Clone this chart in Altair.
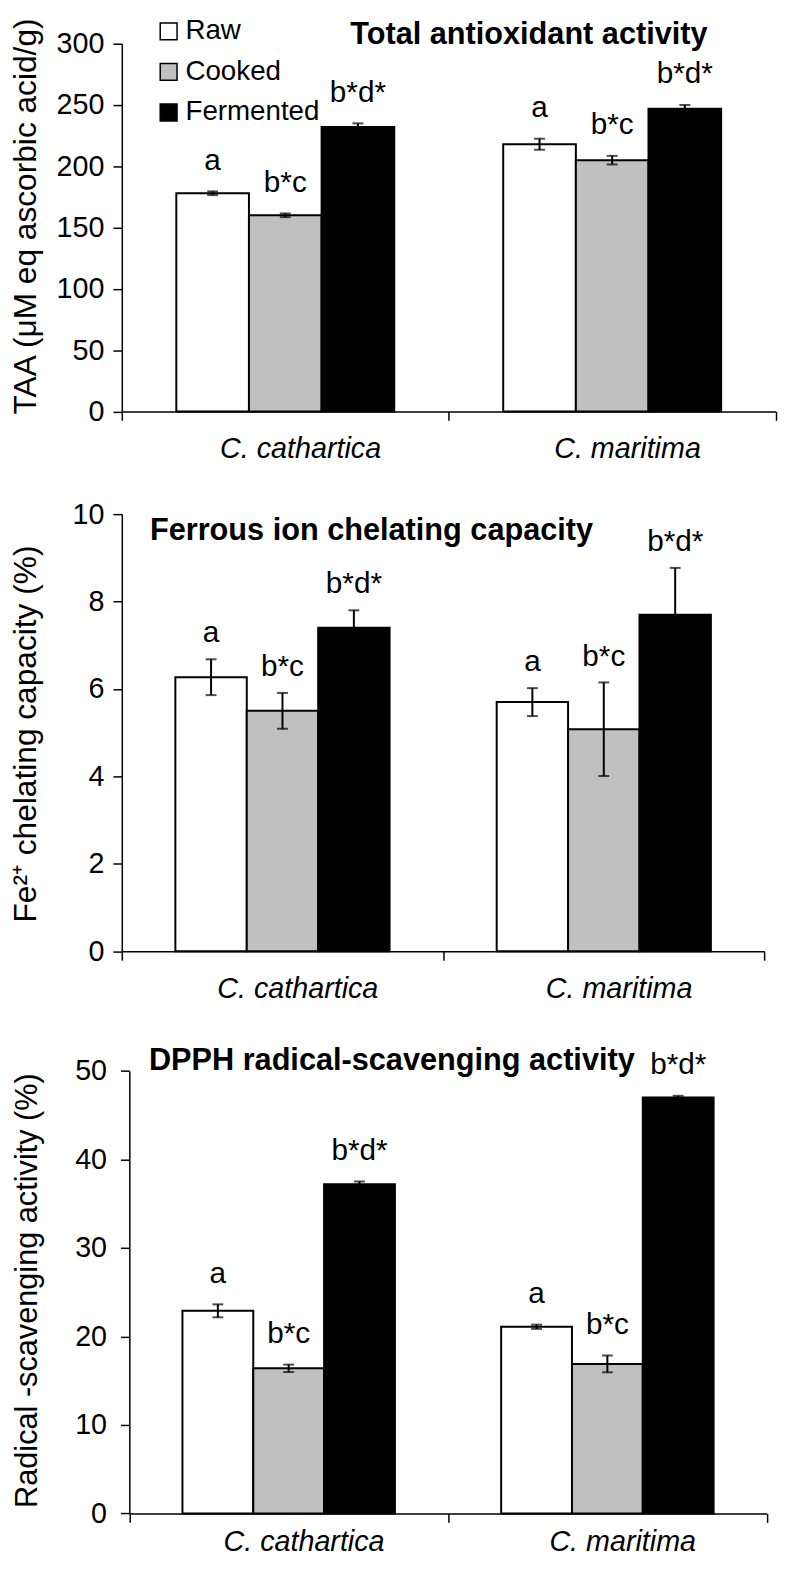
import altair as alt
import pandas as pd

species = ["C. cathartica", "C. maritima"]
treatments = ["Raw", "Cooked", "Fermented"]
letters = ["a", "b*c", "b*d*"]
fills = ["#ffffff", "#c0c0c0", "#000000"]

taa_mean = [178, 160, 232, 218, 205, 247]
taa_err = [1.5, 1.5, 3.0, 4.5, 3.5, 3.0]

fe_mean = [6.27, 5.50, 7.40, 5.70, 5.08, 7.70]
fe_err = [0.41, 0.41, 0.40, 0.32, 1.07, 1.07]

dpph_mean = [22.9, 16.4, 37.2, 21.1, 16.9, 47.0]
dpph_err = [0.73, 0.42, 0.32, 0.24, 0.95, 0.20]

FONT = "Liberation Sans, Arial, Helvetica"


def make_df(means, errs):
    rows = []
    k = 0
    for s in species:
        for t, l in zip(treatments, letters):
            rows.append(dict(species=s, treatment=t, letter=l, mean=means[k],
                             lo=means[k] - errs[k], hi=means[k] + errs[k]))
            k += 1
    return pd.DataFrame(rows)


def panel(means, errs, ymax, ystep, ytitle, title, w, h, title_xy, ytitle_xy,
          label_dy, ytitle_size=32, xrange=None, yrange=None, yoffset=0, ylabel_pad=9,
          xlabel_pad=15, legend=None):
    df = make_df(means, errs)
    xscale = dict(paddingInner=0, paddingOuter=0)
    if xrange is not None:
        xscale["range"] = xrange
    yscale = dict(domain=[0, ymax], nice=False, zero=True)
    if yrange is not None:
        yscale["range"] = yrange
    x = alt.X("species:N", sort=species, scale=alt.Scale(**xscale),
              axis=alt.Axis(title=None, tickBand="extent", labelOffset=15, labelAngle=0,
                            labelFont=FONT, labelFontStyle="italic", labelFontSize=29,
                            labelPadding=xlabel_pad, tickSize=9))
    xo = alt.XOffset("treatment:N", sort=treatments,
                     scale=alt.Scale(paddingInner=0, paddingOuter=0.75))
    yaxis = dict(values=list(range(0, ymax + 1, ystep)), grid=False, title=ytitle,
                 titleFont=FONT, titleFontSize=ytitle_size, titleFontWeight="normal",
                 titleAngle=-90, titleAlign="center", titleBaseline="middle",
                 titleX=ytitle_xy[0], titleY=ytitle_xy[1],
                 labelFont=FONT, labelFontSize=29, labelPadding=ylabel_pad, tickSize=9)
    if yoffset:
        yaxis["offset"] = yoffset
    y = alt.Y("mean:Q", scale=alt.Scale(**yscale), axis=alt.Axis(**yaxis))
    base = alt.Chart(df)
    fill_kwargs = dict(sort=treatments, scale=alt.Scale(domain=treatments, range=fills))
    if legend is None:
        fill = alt.Fill("treatment:N", legend=None, **fill_kwargs)
    else:
        fill = alt.Fill("treatment:N", legend=legend, **fill_kwargs)
    bars = base.mark_bar(stroke="black", strokeWidth=2).encode(x=x, xOffset=xo, y=y, fill=fill)
    rule = base.mark_rule(color="black", strokeWidth=2).encode(
        x=x, xOffset=xo, y="lo:Q", y2="hi:Q")
    cap_hi = base.mark_tick(orient="horizontal", size=11, thickness=2, color="black").encode(
        x=x, xOffset=xo, y="hi:Q")
    cap_lo = base.mark_tick(orient="horizontal", size=11, thickness=2, color="black").encode(
        x=x, xOffset=xo, y="lo:Q")
    text = base.mark_text(dy=label_dy, fontSize=30, font=FONT, baseline="middle",
                          color="black").encode(x=x, xOffset=xo, y="hi:Q", text="letter:N")
    ttl = alt.Chart(pd.DataFrame({"t": [title]})).mark_text(
        font=FONT, fontWeight="bold", fontSize=31, align="center", baseline="middle",
        color="black").encode(x=alt.value(title_xy[0]), y=alt.value(title_xy[1]), text="t:N")
    return alt.layer(bars, rule, cap_hi, cap_lo, text, ttl).properties(width=w, height=h)


legend1 = alt.Legend(title=None, orient="none", legendX=33.3, legendY=-26.5,
                     symbolType="square", symbolSize=289, symbolStrokeColor="black",
                     symbolStrokeWidth=1.5, labelFont=FONT, labelFontSize=28,
                     labelColor="black", labelOffset=3, rowPadding=13, padding=0)

p1 = panel(taa_mean, taa_err, 300, 50, "TAA (μM eq ascorbic acid/g)",
           "Total antioxidant activity", 660.6, 371.5, (411.3, -8.5), (-97.7, 174),
           -31, legend=legend1)
p2 = panel(fe_mean, fe_err, 10, 2, "Fe²⁺ chelating capacity (%)",
           "Ferrous ion chelating capacity", 649.3, 441.7, (252.3, 16.7), (-97.7, 221.7),
           -26)
p3 = panel(dpph_mean, dpph_err, 50, 10, "Radical -scavenging activity (%)",
           "DPPH radical-scavenging activity", 651.6, 464.4, (272.8, 7.2), (-103.3, 238.7),
           -31, ytitle_size=31, xrange=[7.6, 651.6], yrange=[464.4, 17.4], yoffset=-7.6,
           ylabel_pad=14, xlabel_pad=5)

chart = alt.vconcat(p1, p2, p3, spacing=103.3, bounds="flush").resolve_scale(
    x="independent", y="independent", fill="independent", xOffset="independent"
).properties(
    padding={"left": 0, "top": 0, "right": 0, "bottom": 0}
).configure_view(stroke="transparent").configure_axis(
    domainColor="black", tickColor="black", labelColor="black", titleColor="black",
    domainWidth=1.5, tickWidth=1.5
)

chart.save("out.html", embed_options={"renderer": "svg", "actions": False})
